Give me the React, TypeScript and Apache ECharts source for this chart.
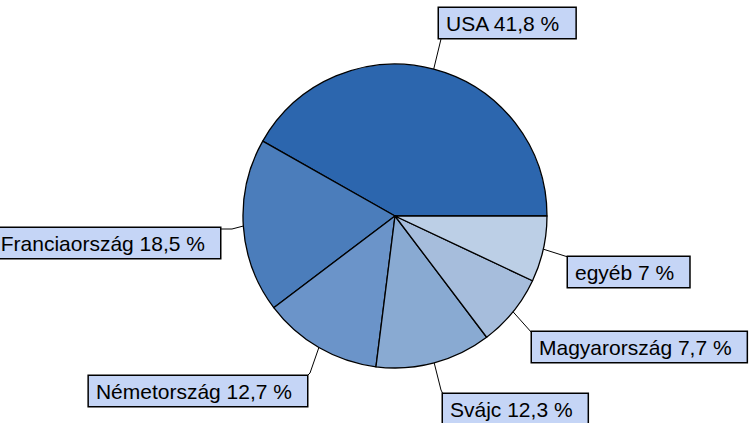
import React, { useEffect, useRef } from "react";
import * as echarts from "echarts";

const categories = ["USA", "Franciaország", "Németország", "Svájc", "Magyarország", "egyéb"];
const shares = [41.8, 18.5, 12.7, 12.3, 7.7, 7];
const labelTexts = ["USA 41,8 %", "Franciaország 18,5 %", "Németország 12,7 %", "Svájc 12,3 %", "Magyarország 7,7 %", "egyéb 7 %"];
const sliceColors = ["#2c66ae", "#4b7dbb", "#6b94c9", "#89aad2", "#a6bddc", "#bccfe6"];

// label box placement: [x, y, align, bend points]
const labelPlacement: Array<{ x: number; y: number; align: "left" | "right"; path: number[][] }> = [
  { x: 439, y: 8, align: "left", path: [[441, 39]] },
  { x: 220, y: 228, align: "right", path: [[232, 229], [220, 229]] },
  { x: 307, y: 376, align: "right", path: [[310, 373], [307, 376]] },
  { x: 443, y: 394, align: "left", path: [[441, 390], [443, 394]] },
  { x: 532, y: 332, align: "left", path: [[532, 333]] },
  { x: 568, y: 257, align: "left", path: [[568, 257]] },
];

const CX = 395;
const CY = 216;
const R = 152;

export default function App() {
  const ref = useRef<HTMLDivElement>(null);
  useEffect(() => {
    document.body.style.margin = "0";
    const chart = echarts.init(ref.current!, undefined, { renderer: "svg" });
    const total = shares.reduce((a, b) => a + b, 0);
    const mids: number[][] = [];
    let acc = 0;
    shares.forEach((v) => {
      const mid = ((acc + v / 2) / total) * Math.PI * 2;
      mids.push([CX + R * Math.cos(mid), CY - R * Math.sin(mid)]);
      acc += v;
    });
    chart.setOption({
      animation: false,
      backgroundColor: "#ffffff",
      series: [
        {
          type: "pie",
          center: [CX, CY],
          radius: R,
          startAngle: 0,
          clockwise: false,
          avoidLabelOverlap: false,
          silent: true,
          data: categories.map((c, i) => ({
            name: c,
            value: shares[i],
            itemStyle: { color: sliceColors[i] },
          })),
          itemStyle: { borderColor: "#000", borderWidth: 1.3 },
          label: {
            show: true,
            position: "outside",
            formatter: (p: any) => labelTexts[p.dataIndex],
            color: "#000",
            fontFamily: "'Liberation Sans', Arial, sans-serif",
            fontSize: 21,
            lineHeight: 22,
            backgroundColor: "#c5d5f6",
            borderColor: "#000",
            borderWidth: 1.5,
            padding: [4, 15, 4, 7],
          },
          labelLine: {
            show: true,
            length: 20,
            length2: 10,
            lineStyle: { color: "#000", width: 1 },
          },
          labelLayout: (params: any) => {
            const pl = labelPlacement[params.dataIndex];
            const start =
              params.labelLinePoints && params.labelLinePoints[0]
                ? params.labelLinePoints[0]
                : mids[params.dataIndex];
            return {
              x: pl.x,
              y: pl.y,
              align: pl.align,
              verticalAlign: "top",
              labelLinePoints: [start, ...pl.path],
            };
          },
        },
      ],
    });
    return () => chart.dispose();
  }, []);
  return <div ref={ref} style={{ width: 752, height: 423 }} />;
}
